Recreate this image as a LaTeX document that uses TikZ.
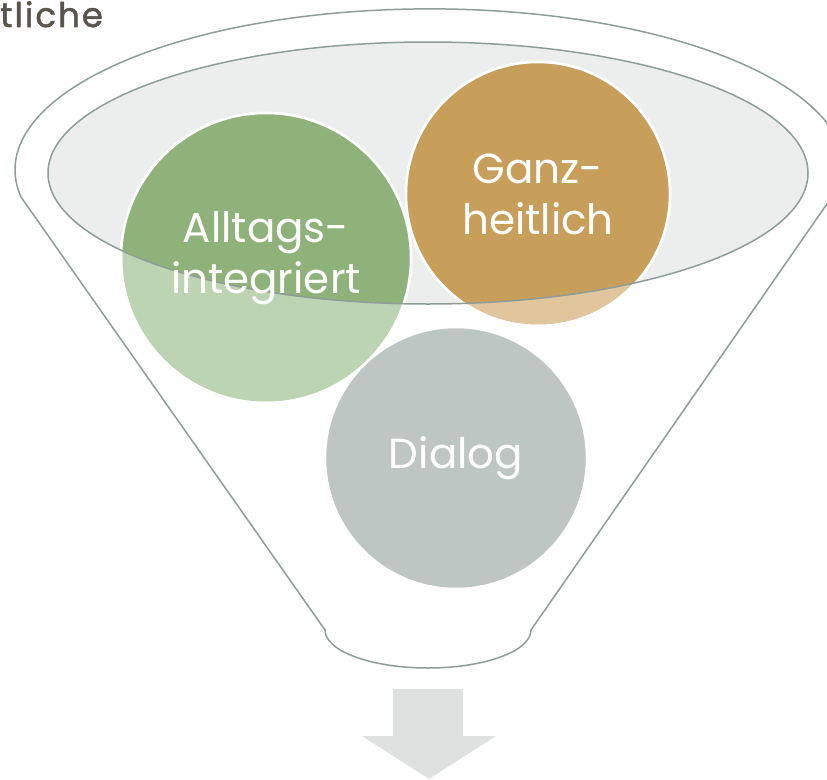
\documentclass[tikz,border=0pt]{standalone}
\usepackage{fontspec}
\setmainfont{Poppins}
\definecolor{rim}{HTML}{8F9D99}
\definecolor{topfill}{HTML}{ECEEED}
\definecolor{greenD}{HTML}{8FB27A}
\definecolor{greenL}{HTML}{BDD4B3}
\definecolor{orangeD}{HTML}{C89E5B}
\definecolor{orangeL}{HTML}{E0C59D}
\definecolor{grayC}{HTML}{BEC6C3}
\definecolor{arrowC}{HTML}{DFE1E0}
\definecolor{titleC}{HTML}{59554C}
\tikzset{
  rimline/.style={draw=rim, line width=1.5pt},
  bubble/.style={circle, inner sep=0pt, draw=white, line width=2.5pt},
  bubbletext/.style={text=white, font=\fontsize{42}{51}\selectfont, align=center, inner sep=0pt},
}
\begin{document}
\begin{tikzpicture}[x=1pt,y=-1pt]
\useasboundingbox (0,0) rectangle (827,779);
% title fragment
\node[anchor=base west, text=titleC, font=\fontsize{34}{40}\selectfont\addfontfeature{FakeBold=1.5,LetterSpace=6}, inner sep=0pt] (title) at (0,27) {tliche};
% funnel body
\path[rimline, fill=white] (21,197) arc[start angle=170.3, end angle=363.2, x radius=415, y radius=161]
  -- (531,630) arc[start angle=0, end angle=180, x radius=103, y radius=38] -- cycle;
% funnel top
\fill[topfill] (428,173) ellipse[x radius=380, y radius=131];
% green
\node[bubble, fill=greenL, minimum size=290pt] (g) at (266,258) {};
\begin{scope}
  \clip (428,173) ellipse[x radius=380, y radius=131];
  \fill[greenD] (g.center) circle[radius=145];
\end{scope}
\draw[white, line width=2.5pt] (g.center) circle[radius=145];
% orange
\node[bubble, fill=orangeL, minimum size=264pt] (o) at (538,194) {};
\begin{scope}
  \clip (428,173) ellipse[x radius=380, y radius=131];
  \fill[orangeD] (o.center) circle[radius=132];
\end{scope}
\draw[white, line width=2.5pt] (o.center) circle[radius=132];
% gray
\node[bubble, fill=grayC, minimum size=262pt] (d) at (456,458) {};
% top outline
\draw[rimline] (428,173) ellipse[x radius=380, y radius=131];
% texts
\node[bubbletext] at (g.center) {Alltags-\\integriert};
\node[bubbletext] at (o.center) {Ganz-\\heitlich};
\node[bubbletext] at (d.center) {Dialog};
% arrow
\fill[arrowC] (393,689) -- (463,689) -- (463,736) -- (496,736) -- (429,779) -- (362,736) -- (393,736) -- cycle;
\end{tikzpicture}
\end{document}
